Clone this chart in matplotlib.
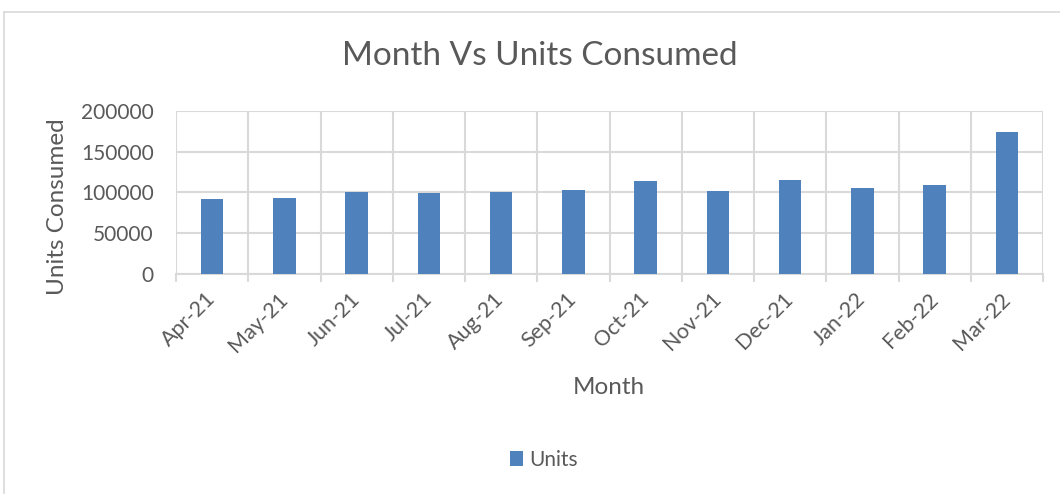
import matplotlib.pyplot as plt
from matplotlib.lines import Line2D
import numpy as np

# Monthly consumption
months = ["Apr-21", "May-21", "Jun-21", "Jul-21", "Aug-21", "Sep-21",
          "Oct-21", "Nov-21", "Dec-21", "Jan-22", "Feb-22", "Mar-22"]
units = [91600, 93300, 100300, 99000, 100600, 103400,
         114100, 101800, 115000, 105900, 108800, 173900]
yticks = [0, 50000, 100000, 150000, 200000]

plt.rcParams["font.family"] = ["Lato", "DejaVu Sans"]
txt = "#595959"
grid = "#D9D9D9"
bar_color = "#4F81BD"

W, H = 1060, 494
fig = plt.figure(figsize=(W / 100, H / 100), dpi=100)
ax = fig.add_axes([176 / W, 1 - 273.7 / H, (1043 - 176) / W, (273.7 - 111.3) / H])

x = np.arange(len(months))
ax.bar(x, units, width=0.31, color=bar_color, zorder=3, label="Units")

ax.set_xlim(-0.5, len(months) - 0.5)
ax.set_ylim(0, 200000)
ax.set_yticks(yticks)
ax.set_yticklabels([str(v) for v in yticks], fontsize=15, color=txt)
ax.set_xticks(x)
ax.set_xticklabels(months, rotation=45, ha="right", va="center",
                   rotation_mode="anchor", fontsize=15.5, color=txt)
ax.set_xticks(np.arange(-0.5, len(months)), minor=True)
ax.tick_params(axis="x", which="major", length=0, pad=16)
ax.tick_params(axis="x", which="minor", length=6, width=1.5, color=grid)
ax.tick_params(axis="y", length=0, pad=16)

ax.grid(axis="y", color=grid, linewidth=1.5, zorder=0)
ax.grid(axis="x", which="minor", color=grid, linewidth=1.5, zorder=0)
for s in ["top", "right", "left"]:
    ax.spines[s].set_visible(False)
ax.spines["bottom"].set_color(grid)
ax.spines["bottom"].set_linewidth(1.5)

ax.set_ylabel("Units Consumed", fontsize=17.5, color=txt, va="center")
ax.yaxis.set_label_coords((58 - 176) / (1043 - 176), (273.7 - 207) / (273.7 - 111.3))
fig.text(609 / W, 1 - 388 / H, "Month", ha="center", va="center",
         fontsize=17.5, color=txt)
fig.text(540 / W, 1 - 56 / H, "Month Vs Units Consumed", ha="center",
         va="center", fontsize=24, color=txt)

handles, labels = ax.get_legend_handles_labels()
fig.legend(handles, labels, loc="center", bbox_to_anchor=(544 / W, 1 - 460 / H),
           frameon=False, fontsize=15, labelcolor=txt,
           handlelength=0.6, handleheight=0.7, handletextpad=0.3)

# outer chart frame
fig.add_artist(Line2D([3.5 / W, 3.5 / W], [0, 1 - 12 / H], transform=fig.transFigure,
                      color=grid, linewidth=1.2))
fig.add_artist(Line2D([3.5 / W, 1], [1 - 12 / H, 1 - 12 / H], transform=fig.transFigure,
                      color=grid, linewidth=1.2))

fig.savefig("out.png", dpi=100)
